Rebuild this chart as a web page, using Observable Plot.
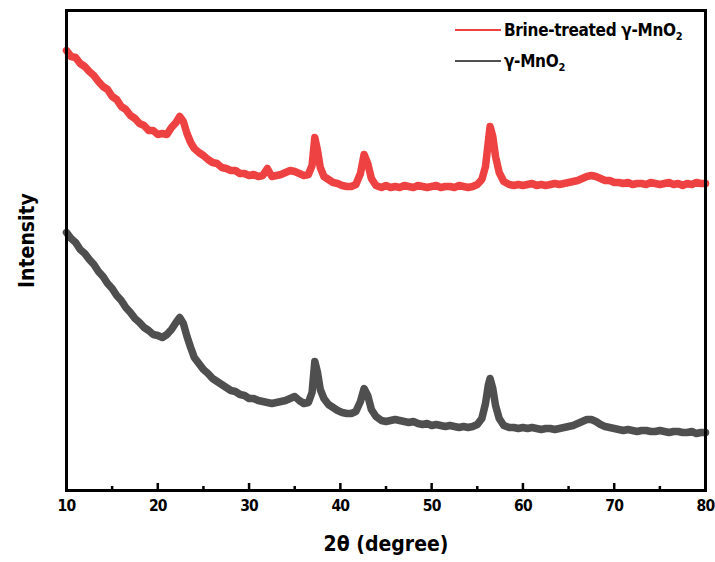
<!DOCTYPE html>
<html>
<head>
<meta charset="utf-8">
<script src="https://cdn.jsdelivr.net/npm/d3@7"></script>
<script src="https://cdn.jsdelivr.net/npm/@observablehq/plot@0.6"></script>
<style>
  html, body { margin: 0; padding: 0; background: #fff; }
  #wrap { position: relative; width: 715px; height: 562px; font-family: "DejaVu Sans Condensed", "Liberation Sans", Arial, sans-serif; font-weight: bold; font-stretch: condensed; }
  #legend { position: absolute; left: 455px; top: 14px; font-size: 17px; color: #000; letter-spacing: -0.3px; }
  .row { display: flex; align-items: center; height: 31px; }
  .sw { width: 46px; height: 2px; margin-right: 3px; }
  sub { font-size: 11px; vertical-align: -4px; line-height: 0; }
  g[aria-label="x-axis tick label"] text { letter-spacing: -0.8px; }
</style>
</head>
<body>
<div id="wrap"></div>
<script>
// 2θ positions (degree)
const theta = [10,10.5,11,11.5,12,12.5,13,13.5,14,14.5,15,15.5,16,16.5,17,17.5,18,18.5,19,19.5,20,20.5,21,21.5,22,
  22.4,22.8,23.2,23.6,
  24,24.5,25,25.5,26,26.5,27,27.5,28,28.5,29,29.5,30,30.5,31,31.5,32,32.5,33,33.5,34,34.5,35,35.5,36,36.5,
  36.9,37.2,37.5,37.8,
  38.2,38.7,39.2,39.7,40.2,40.7,41.2,41.7,42.2,
  42.6,43,43.4,43.9,
  44.5,45,45.5,46,46.5,47,47.5,48,48.5,49,49.5,50,50.5,51,51.5,52,52.5,53,53.5,54,54.5,55,55.5,
  55.9,56.2,56.4,56.7,57,57.4,57.9,
  58.5,59,59.5,60,60.5,61,61.5,62,62.5,63,63.5,64,64.5,65,65.5,66,66.5,67,67.5,68,68.5,69,69.5,70,70.5,71,71.5,72,72.5,73,73.5,74,74.5,75,75.5,76,76.5,77,77.5,78,78.5,79,79.5,80];

// Intensity (a.u., offset-stacked as in the figure)
const brineTreated = [440,434,433,427,424,419,415,409,404,401,394,391,384,381,375,372,367,365,360,360,356,357,356,363,368,
  374,369,357,348,
  342,338,335,331,328,327,323,322,320,320,317,317,315,316,314,315,322,314,315,316,318,320,319,317,315,316,
  325,353,340,323,
  314,311,308,307,305,304,304,306,317,
  336,327,312,305,
  303,305,303,304,303,305,304,303,305,304,303,304,305,303,304,304,303,305,304,303,304,306,311,
  324,348,364,354,334,318,309,
  306,305,306,305,306,307,305,306,305,306,307,306,307,308,309,310,312,314,315,314,312,310,310,308,308,307,308,306,307,307,306,308,307,306,307,308,306,307,305,307,306,308,307,307];

const pristine = [258,252,248,241,237,231,226,219,214,207,202,195,190,183,178,172,168,163,160,156,155,153,156,161,168,
  173,167,154,143,
  133,127,121,117,112,109,106,103,100,99,96,95,92,92,90,89,88,87,88,89,90,92,94,90,87,88,
  98,129,118,101,
  92,86,83,80,78,77,77,79,89,
  102,95,81,74,
  70,69,70,71,70,69,68,69,67,66,67,65,66,65,64,65,64,63,64,63,64,66,72,
  87,105,112,102,85,72,65,
  63,63,62,63,62,63,62,61,62,62,61,62,63,64,65,67,69,71,71,69,66,64,63,62,61,60,61,60,59,60,60,59,59,60,59,58,59,59,58,58,59,57,58,58];

const seriesNames = ["Brine-treated γ-MnO₂", "γ-MnO₂"];
const seriesColors = ["#EE4242", "#4F4F4F"];
const majorTicks = [10,20,30,40,50,60,70,80];
const minorTicks = [15,25,35,45,55,65,75];
const xLabel = "2θ (degree)";
const yLabel = "Intensity";

const rows = [];
theta.forEach((t, i) => {
  rows.push({theta: t, value: brineTreated[i], series: seriesNames[0]});
  rows.push({theta: t, value: pristine[i], series: seriesNames[1]});
});

const font = '"DejaVu Sans Condensed", "Liberation Sans", Arial, sans-serif';

const chart = Plot.plot({
  width: 715,
  height: 562,
  marginTop: 10,
  marginRight: 10,
  marginBottom: 72,
  marginLeft: 66,
  style: {fontFamily: font, fontWeight: "bold", color: "#000", background: "#fff"},
  x: {domain: [10, 80]},
  y: {domain: [0, 480]},
  color: {domain: seriesNames, range: seriesColors},
  marks: [
    Plot.line(rows, {x: "theta", y: "value", z: "series", stroke: "series", strokeWidth: 7.5, strokeLinejoin: "round", curve: "linear"}),
    Plot.ruleX(majorTicks, {x: d => d, y1: 0, y2: 7, stroke: "black", strokeWidth: 2.5}),
    Plot.ruleX(minorTicks, {x: d => d, y1: 0, y2: 4, stroke: "black", strokeWidth: 2.5}),
    Plot.axisX({ticks: majorTicks, tickSize: 0, tickPadding: 9, tickFormat: d => String(d), fontSize: 15.5, label: null}),
    Plot.axisY({ticks: [], label: null}),
    Plot.text([xLabel], {frameAnchor: "bottom", dy: 60, fontSize: 21, fontWeight: "bold", fill: "black"}),
    Plot.text([yLabel], {frameAnchor: "left", textAnchor: "middle", rotate: -90, dx: -39, dy: -10, fontSize: 21, fontWeight: "bold", fill: "black"}),
    Plot.frame({stroke: "black", strokeWidth: 3})
  ]
});

const wrap = document.getElementById("wrap");
wrap.appendChild(chart);

const legend = document.createElement("div");
legend.id = "legend";
legend.innerHTML =
  `<div class="row"><div class="sw" style="background:${seriesColors[0]}"></div><span>Brine-treated γ-MnO<sub>2</sub></span></div>` +
  `<div class="row"><div class="sw" style="background:${seriesColors[1]}"></div><span>γ-MnO<sub>2</sub></span></div>`;
wrap.appendChild(legend);
</script>
</body>
</html>
